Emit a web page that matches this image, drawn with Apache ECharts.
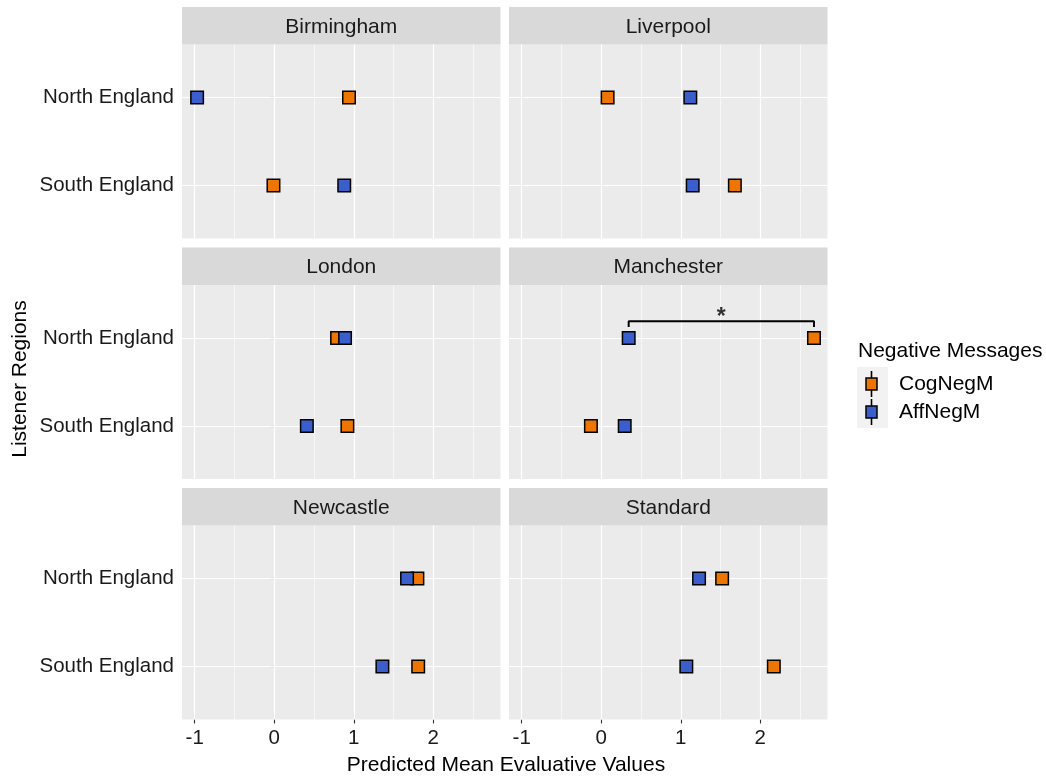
<!DOCTYPE html>
<html>
<head>
<meta charset="utf-8">
<script src="https://cdn.jsdelivr.net/npm/echarts@6/dist/echarts.min.js"></script>
<style>
  html, body { margin: 0; padding: 0; background: #ffffff; }
  #chart { width: 1046px; height: 778px; }
</style>
</head>
<body>
<div id="chart"></div>
<script>
// ---- data ----
const facets = ['Birmingham', 'Liverpool', 'London', 'Manchester', 'Newcastle', 'Standard'];
const regions = ['North England', 'South England'];
const groups = ['CogNegM', 'AffNegM'];

// predicted mean evaluative values, one entry per facet
const cogNorth = [0.94, 0.08, 0.79, 2.675, 1.80, 1.52];
const cogSouth = [-0.01, 1.68, 0.92, -0.13, 1.81, 2.17];
const affNorth = [-0.97, 1.12, 0.89, 0.345, 1.67, 1.23];
const affSouth = [0.88, 1.15, 0.41, 0.295, 1.36, 1.07];

// significant contrast: facet index and listener region
const sigFacet = 3;
const sigRegion = 0;

const xTicks = [-1, 0, 1, 2];
const xMinorTicks = [-0.5, 0.5, 1.5, 2.5];
const xMin = -1.16, xMax = 2.845;

// ---- styling ----
const groupColors = { CogNegM: '#EE7600', AffNegM: '#3A5FCD' };
const FONT = '"Liberation Sans", Arial, sans-serif';
const panelBg = '#EBEBEB';
const stripBg = '#D9D9D9';
const TXT = '21px ' + FONT;

// ---- facet layout (3 rows x 2 columns) ----
const colLeft = [182, 509];
const panelW = 318.5;
const rowTop = [7, 247.5, 488];
const stripH = 37.5;
const plotH = 194;

const grids = [], xAxes = [], yAxes = [], series = [], graphics = [];

facets.forEach((name, i) => {
  const r = Math.floor(i / 2), c = i % 2;
  const top = rowTop[r] + stripH;
  const isBottom = r === 2, isLeft = c === 0;

  grids.push({
    left: colLeft[c], top: top, width: panelW, height: plotH,
    show: true, backgroundColor: panelBg, borderWidth: 0,
    outerBoundsMode: 'none', containLabel: false
  });

  xAxes.push({
    type: 'value', gridIndex: i, min: xMin, max: xMax,
    axisLine: { show: false },
    axisTick: { show: isBottom, customValues: xTicks, length: 4, lineStyle: { color: '#333333', width: 1.1 } },
    axisLabel: { show: isBottom, customValues: xTicks, margin: 8, fontSize: 20.5, color: '#1A1A1A', fontFamily: FONT },
    splitLine: { show: false }
  });

  yAxes.push({
    type: 'value', gridIndex: i, min: 0.4, max: 2.6, inverse: true,
    axisLine: { show: false },
    axisTick: { show: isLeft, customValues: [1, 2], length: 4, lineStyle: { color: '#333333', width: 1.1 } },
    axisLabel: {
      show: isLeft, customValues: [1, 2], margin: 8, fontSize: 20.5, color: '#1A1A1A', fontFamily: FONT,
      formatter: v => regions[Math.round(v) - 1]
    },
    splitLine: { show: false }
  });

  // panel grid lines, kept beneath the points
  const major = { color: '#FFFFFF', width: 1.2, type: 'solid' };
  const minor = { color: '#FFFFFF', width: 0.6, type: 'solid' };
  series.push({
    type: 'line', xAxisIndex: i, yAxisIndex: i, data: [], z: 1, silent: true,
    markLine: {
      z: 1, silent: true, animation: false, symbol: ['none', 'none'],
      label: { show: false }, emphasis: { disabled: true },
      data: [
        ...xMinorTicks.map(v => ({ xAxis: v, lineStyle: minor })),
        ...xTicks.map(v => ({ xAxis: v, lineStyle: major })),
        ...regions.map((_, k) => ({ yAxis: k + 1, lineStyle: major }))
      ]
    }
  });

  const pts = (north, south) => [[north[i], 1], [south[i], 2]];
  series.push({
    name: 'CogNegM', type: 'scatter', xAxisIndex: i, yAxisIndex: i, z: 6,
    symbol: 'rect', symbolSize: 12.5, animation: false,
    itemStyle: { color: groupColors.CogNegM, borderColor: '#000000', borderWidth: 1.5, opacity: 1 },
    data: pts(cogNorth, cogSouth)
  });
  series.push({
    name: 'AffNegM', type: 'scatter', xAxisIndex: i, yAxisIndex: i, z: 7,
    symbol: 'rect', symbolSize: 12.5, animation: false,
    itemStyle: { color: groupColors.AffNegM, borderColor: '#000000', borderWidth: 1.5, opacity: 1 },
    data: pts(affNorth, affSouth)
  });

  // strip with facet name
  graphics.push({
    type: 'rect', silent: true,
    shape: { x: colLeft[c], y: rowTop[r], width: panelW, height: stripH },
    style: { fill: stripBg }
  });
  graphics.push({
    type: 'text', silent: true,
    x: colLeft[c] + panelW / 2, y: rowTop[r] + stripH / 2 + 1,
    style: { text: name, font: TXT, fill: '#1A1A1A', align: 'center', verticalAlign: 'middle' }
  });
});

// significance bracket between the two groups
{
  const a = affNorth[sigFacet], b = cogNorth[sigFacet];
  const yRow = sigRegion + 1;
  const yBar = yRow - 0.19, yEnd = yRow - 0.125;
  series.push({
    type: 'line', xAxisIndex: sigFacet, yAxisIndex: sigFacet, z: 8, silent: true,
    symbol: 'none', animation: false,
    lineStyle: { color: '#000000', width: 2 },
    data: [[a, yEnd], [a, yBar], [b, yBar], [b, yEnd]]
  });
  series.push({
    type: 'scatter', xAxisIndex: sigFacet, yAxisIndex: sigFacet, z: 8, silent: true,
    symbolSize: 0, animation: false,
    label: { show: true, position: 'top', distance: 0, offset: [0, 8], formatter: '*', fontSize: 23, fontWeight: 'bold', color: '#000000', fontFamily: FONT },
    data: [[(a + b) / 2, yBar]]
  });
}

// axis titles
graphics.push({
  type: 'text', silent: true, x: 506, y: 765,
  style: { text: 'Predicted Mean Evaluative Values', font: TXT, fill: '#000000', align: 'center', verticalAlign: 'middle' }
});
graphics.push({
  type: 'text', silent: true, x: 20, y: 379, rotation: Math.PI / 2,
  style: { text: 'Listener Regions', font: TXT, fill: '#000000', align: 'center', verticalAlign: 'middle' }
});

// legend
const lgX = 857, lgY = 367;
graphics.push({
  type: 'text', silent: true, x: 858, y: 351,
  style: { text: 'Negative Messages', font: TXT, fill: '#000000', align: 'left', verticalAlign: 'middle' }
});
graphics.push({
  type: 'rect', silent: true, shape: { x: lgX, y: lgY, width: 31, height: 61 }, style: { fill: '#F2F2F2' }
});
groups.forEach((g, k) => {
  const cy = 384 + k * 28;
  graphics.push({
    type: 'line', silent: true, shape: { x1: 871.5, y1: cy - 13, x2: 871.5, y2: cy + 13 },
    style: { stroke: '#000000', lineWidth: 1.6 }
  });
  graphics.push({
    type: 'rect', silent: true, shape: { x: 871.5 - 5.5, y: cy - 6, width: 11, height: 12 },
    style: { fill: groupColors[g], stroke: '#000000', lineWidth: 1.5 }
  });
  graphics.push({
    type: 'text', silent: true, x: 899, y: cy,
    style: { text: g, font: TXT, fill: '#000000', align: 'left', verticalAlign: 'middle' }
  });
});

const chart = echarts.init(document.getElementById('chart'), null, { renderer: 'canvas' });
chart.setOption({
  backgroundColor: '#FFFFFF',
  animation: false,
  grid: grids,
  xAxis: xAxes,
  yAxis: yAxes,
  series: series,
  graphic: { elements: graphics }
});
</script>
</body>
</html>
